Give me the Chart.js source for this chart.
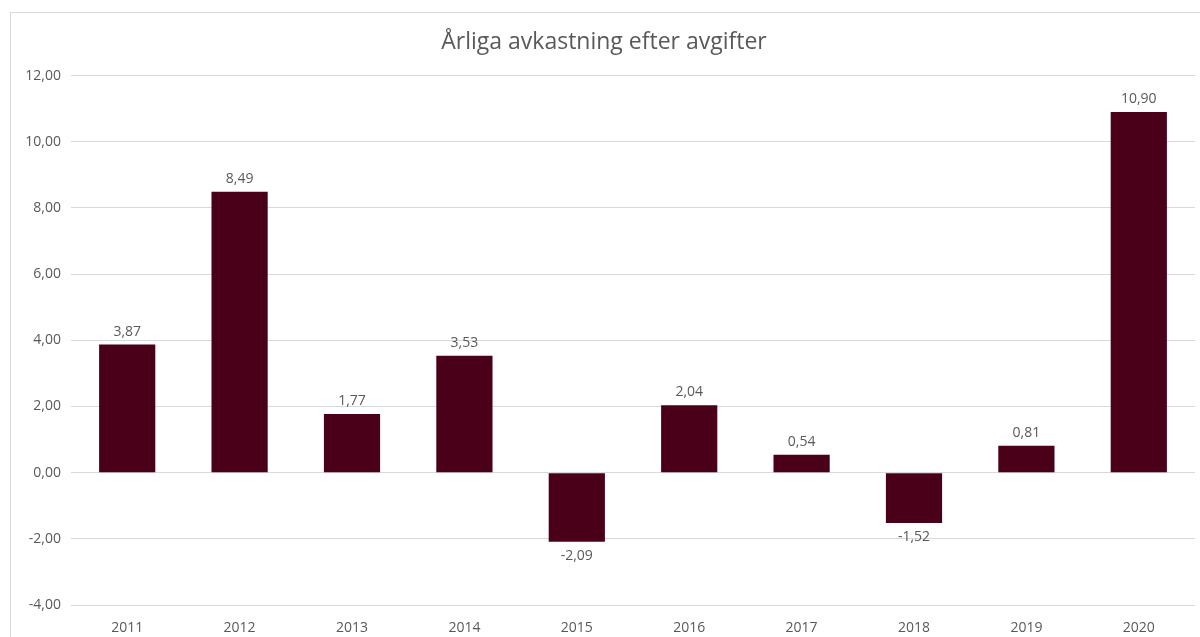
<!DOCTYPE html>
<html lang="sv">
<head>
    <meta charset="UTF-8">
    <title>Årliga avkastning efter avgifter</title>
    <style>
        body {
            margin: 0;
            background-color: #ffffff;
            overflow: hidden;
        }
        .frame {
            position: absolute;
            left: 10px;
            top: 12px;
            width: 1200px;
            height: 640px;
            border: 1px solid #d9d9d9;
        }
        .chart-box {
            position: absolute;
            left: 0;
            top: 0;
            width: 1189px;
            height: 624px;
        }
    </style>
</head>
<body>
    <div class="frame">
        <div class="chart-box">
            <canvas id="returnsChart"></canvas>
        </div>
    </div>

    <script src="https://cdn.jsdelivr.net/npm/chart.js"></script>
    <script>
        const years = ["2011", "2012", "2013", "2014", "2015", "2016", "2017", "2018", "2019", "2020"];
        const returns = [3.87, 8.49, 1.77, 3.53, -2.09, 2.04, 0.54, -1.52, 0.81, 10.90];
        const yTicks = [-4, -2, 0, 2, 4, 6, 8, 10, 12];

        const textColor = "#595959";
        const fontFamily = "'Open Sans', 'Noto Sans', sans-serif";

        function fmt(v) {
            return v.toFixed(2).replace(".", ",");
        }

        // draws the value above (or below) each bar
        const valueLabels = {
            id: "valueLabels",
            afterDatasetsDraw(chart) {
                const ctx = chart.ctx;
                const meta = chart.getDatasetMeta(0);
                ctx.save();
                ctx.font = "14px " + fontFamily;
                ctx.fillStyle = textColor;
                ctx.textAlign = "center";
                meta.data.forEach((bar, i) => {
                    const v = returns[i];
                    if (v >= 0) {
                        ctx.textBaseline = "bottom";
                        ctx.fillText(fmt(v), bar.x, bar.y - 6);
                    } else {
                        ctx.textBaseline = "top";
                        ctx.fillText(fmt(v), bar.x, bar.y + 7);
                    }
                });
                ctx.restore();
            }
        };

        new Chart(document.getElementById("returnsChart"), {
            type: "bar",
            data: {
                labels: years,
                datasets: [{
                    data: returns,
                    backgroundColor: "#4a0019",
                    barPercentage: 0.5,
                    categoryPercentage: 1.0
                }]
            },
            options: {
                responsive: true,
                maintainAspectRatio: false,
                animation: false,
                layout: {
                    padding: { left: 2, right: 5, top: 0, bottom: 0 }
                },
                plugins: {
                    legend: { display: false },
                    tooltip: { enabled: false },
                    title: {
                        display: true,
                        text: "Årliga avkastning efter avgifter",
                        color: textColor,
                        font: { family: fontFamily, size: 23, weight: "normal" },
                        padding: { top: 16, bottom: 19 }
                    }
                },
                scales: {
                    y: {
                        min: -4,
                        max: 12,
                        afterFit(scale) { scale.width = 58; },
                        afterBuildTicks(scale) {
                            scale.ticks = yTicks.map(v => ({ value: v }));
                        },
                        border: { display: false },
                        grid: {
                            color: "#d9d9d9",
                            drawTicks: false
                        },
                        ticks: {
                            color: textColor,
                            padding: 10,
                            font: { family: fontFamily, size: 14 },
                            callback: v => fmt(v)
                        }
                    },
                    x: {
                        afterFit(scale) { scale.height = 32; },
                        border: { display: false },
                        grid: { display: false },
                        ticks: {
                            color: textColor,
                            padding: 7,
                            font: { family: fontFamily, size: 14 }
                        }
                    }
                }
            },
            plugins: [valueLabels]
        });
    </script>
</body>
</html>
